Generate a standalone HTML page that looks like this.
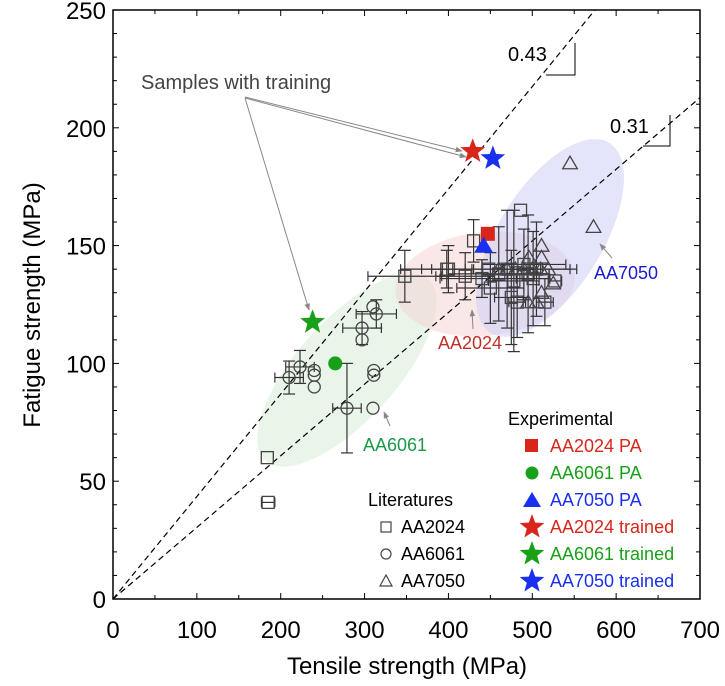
<!DOCTYPE html>
<html><head><meta charset="utf-8"><style>
html,body{margin:0;padding:0;background:#fff;}
svg{display:block;font-family:"Liberation Sans",Arial,sans-serif;}
</style></head><body>
<svg id="chart" width="725" height="686" viewBox="0 0 725 686" xmlns="http://www.w3.org/2000/svg">
<defs>
<marker id="ah" viewBox="0 0 10 10" refX="9" refY="5" markerWidth="7" markerHeight="7" orient="auto"><path d="M0,1 L10,5 L0,9 Z" fill="#888"/></marker>
</defs>
<g id="regions"></g>
<g id="lines"></g>
<g id="marks"></g>
<g id="axes"></g>
<g id="annot"></g>
</svg>
<script>
// ---- data ----
const xTicks = [0,100,200,300,400,500,600,700];
const yTicks = [0,50,100,150,200,250];
const ratioSlopes = [0.435, 0.304];
const ratioLabels = ["0.43", "0.31"];
// literature AA2024 squares: x, y, xerr, yerr
const sqX  = [184,185,348,398,430,400,420,440,450,460,470,478,482,486,495,501,515,527,505,490,475,448];
const sqY  = [60, 41, 137,140,152,140,137,136,132,138,140,135,126,165,138,136,126,135,140,142,128,140];
const sqEX = [0,  8,  44, 30, 0,  20, 35, 50, 40, 60, 40, 30, 10, 0,  25, 20, 10, 8,  40, 50, 20, 105];
const sqEY = [0,  0,  11, 8,  9,  10, 10, 8,  15, 20, 25, 30, 15, 0,  25, 20, 10, 0,  20, 15, 20, 0];
// literature AA6061 circles
const ciX  = [210,223,240,240,240,279,311,311,310,297,297,310,314];
const ciY  = [94, 98.5,97,95, 90, 81, 97, 95, 81, 115,110,124,121];
const ciEX = [17, 17, 0,  0,  0,  17, 0,  0,  0,  23, 0,  0,  24];
const ciEY = [7,  7,  0,  0,  0,  19, 0,  0,  0,  7,  0,  0,  6];
// literature AA7050 triangles
const trX = [545,573,511,496,511,519,525,511,495,460,470,480,490,500,510,505];
const trY = [185,158,150,145,145,140,134,130,126,140,140,140,140,140,140,126];
// experimental
const paX = [447,265,442];
const paY = [155,100,150];
const trainedX = [429,238,453];
const trainedY = [190,117.5,187];
const expColors = ["#d8261a","#18a018","#1a30f0"];
const expNames = ["AA2024","AA6061","AA7050"];

// ---- scales ----
const X0=113, X1=700, Y0=599, Y1=10;
const sx = v => X0 + v*(X1-X0)/700;
const sy = v => Y0 - v*(Y0-Y1)/250;
const NS="http://www.w3.org/2000/svg";
function mk(tag, attrs, parent){const e=document.createElementNS(NS,tag);for(const k in attrs)e.setAttribute(k,attrs[k]);parent.appendChild(e);return e;}
const gR=document.getElementById('regions'),gL=document.getElementById('lines'),gM=document.getElementById('marks'),gA=document.getElementById('axes'),gN=document.getElementById('annot');

// regions
[[347,370,122,50,-48,"rgba(205,232,205,0.45)","aa6061-region"],
 [485,284,90,52,-6,"rgba(245,210,210,0.5)","aa2024-region"],
 [550,238,112,52,-58,"rgba(205,205,248,0.55)","aa7050-region"]].forEach(r=>{
  const e=mk('ellipse',{cx:r[0],cy:r[1],rx:r[2],ry:r[3],transform:`rotate(${r[4]} ${r[0]} ${r[1]})`,fill:r[5]},gR);
  
  
});

// ratio lines
ratioSlopes.forEach((s,i)=>{
  let xe=700, ye=s*700; if(ye>250){ye=250;xe=250/s;}
  const l=mk('line',{x1:sx(0),y1:sy(0),x2:sx(xe),y2:sy(ye),stroke:'#000','stroke-width':1.2,'stroke-dasharray':'6,4'},gL);
  
  
});

function errbars(x,y,ex,ey,g){
  const c='#333',w=1.2;
  if(ex>0){mk('line',{x1:sx(x-ex),y1:sy(y),x2:sx(x+ex),y2:sy(y),stroke:c,'stroke-width':w},g);
    mk('line',{x1:sx(x-ex),y1:sy(y)-5,x2:sx(x-ex),y2:sy(y)+5,stroke:c,'stroke-width':w},g);
    mk('line',{x1:sx(x+ex),y1:sy(y)-5,x2:sx(x+ex),y2:sy(y)+5,stroke:c,'stroke-width':w},g);}
  if(ey>0){mk('line',{x1:sx(x),y1:sy(y-ey),x2:sx(x),y2:sy(y+ey),stroke:c,'stroke-width':w},g);
    mk('line',{x1:sx(x)-6,y1:sy(y-ey),x2:sx(x)+6,y2:sy(y-ey),stroke:c,'stroke-width':w},g);
    mk('line',{x1:sx(x)-6,y1:sy(y+ey),x2:sx(x)+6,y2:sy(y+ey),stroke:c,'stroke-width':w},g);}
}
sqX.forEach((x,i)=>{
  const g=mk('g',{},gM);
  
  
  errbars(x,sqY[i],sqEX[i],sqEY[i],g);
  mk('rect',{x:sx(x)-6,y:sy(sqY[i])-6,width:12,height:12,fill:'none',stroke:'#444','stroke-width':1.3},g);
});
ciX.forEach((x,i)=>{
  const g=mk('g',{},gM);
  
  
  errbars(x,ciY[i],ciEX[i],ciEY[i],g);
  mk('circle',{cx:sx(x),cy:sy(ciY[i]),r:6,fill:'none',stroke:'#444','stroke-width':1.3},g);
});
function triPts(cx,cy,s){return `${cx},${cy-s} ${cx-s*1.05},${cy+s*0.8} ${cx+s*1.05},${cy+s*0.8}`;}
trX.forEach((x,i)=>{
  const p=mk('polygon',{points:triPts(sx(x),sy(trY[i]),7),fill:'none',stroke:'#444','stroke-width':1.3},gM);
  
  
});
function starPts(cx,cy,R){const r=R*0.42;let p=[];for(let k=0;k<10;k++){const a=-Math.PI/2+k*Math.PI/5;const rr=k%2?r:R;p.push((cx+rr*Math.cos(a)).toFixed(1)+','+(cy+rr*Math.sin(a)).toFixed(1));}return p.join(' ');}
function paMark(i,cx,cy,g){
  if(i===0) return mk('rect',{x:cx-7,y:cy-7,width:14,height:14,fill:expColors[0]},g);
  if(i===1) return mk('circle',{cx:cx,cy:cy,r:7,fill:expColors[1]},g);
  return mk('polygon',{points:triPts(cx,cy,9),fill:expColors[2]},g);
}
paX.forEach((x,i)=>{
  const e=paMark(i,sx(x),sy(paY[i]),gM);
  
  
});
trainedX.forEach((x,i)=>{
  const e=mk('polygon',{points:starPts(sx(x),sy(trainedY[i]),13),fill:expColors[i]},gM);
  
  
});

// axes frame & ticks
mk('rect',{x:X0,y:Y1,width:X1-X0,height:Y0-Y1,fill:'none',stroke:'#000','stroke-width':1.5},gA);
for(let v=0;v<=700;v+=50){
  const t=v%100===0?6:4;
  mk('line',{x1:sx(v),y1:Y0,x2:sx(v),y2:Y0-t,stroke:'#000','stroke-width':1},gA);
  mk('line',{x1:sx(v),y1:Y1,x2:sx(v),y2:Y1+t,stroke:'#000','stroke-width':1},gA);
}
for(let v=0;v<=250;v+=10){
  const t=v%50===0?6:4;
  mk('line',{x1:X0,y1:sy(v),x2:X0+t,y2:sy(v),stroke:'#000','stroke-width':1},gA);
  mk('line',{x1:X1,y1:sy(v),x2:X1-t,y2:sy(v),stroke:'#000','stroke-width':1},gA);
}
xTicks.forEach(v=>{
  const t=mk('text',{x:sx(v),y:638,'text-anchor':'middle','font-size':24},gA);t.textContent=v;
  
  
});
yTicks.forEach(v=>{
  const t=mk('text',{x:X0-7,y:sy(v)+9,'text-anchor':'end','font-size':24},gA);t.textContent=v;
  
  
});
</script>
<script>
// annotations (static)
(function(){
const NS="http://www.w3.org/2000/svg";
const g=document.getElementById('annot');
function mk(tag,a,txt){const e=document.createElementNS(NS,tag);for(const k in a)e.setAttribute(k,a[k]);if(txt)e.textContent=txt;g.appendChild(e);return e;}
let e;
e=mk('text',{x:407,y:674,'text-anchor':'middle','font-size':24},'Tensile strength (MPa)');

e=mk('text',{x:0,y:0,'text-anchor':'middle','font-size':24,transform:'translate(40,305) rotate(-90)'},'Fatigue strength (MPa)');

e=mk('text',{x:141,y:89,'font-size':20,fill:'#444'},'Samples with training');

mk('line',{x1:245,y1:97,x2:462,y2:151,stroke:'#888','stroke-width':1,'marker-end':'url(#ah)'});
mk('line',{x1:245,y1:98,x2:466,y2:157,stroke:'#888','stroke-width':1,'marker-end':'url(#ah)'});
mk('line',{x1:245,y1:98,x2:309,y2:310,stroke:'#888','stroke-width':1,'marker-end':'url(#ah)'});
e=mk('text',{x:508,y:61,'font-size':20},'0.43');
mk('polyline',{points:'546,75 575,75 575,43',fill:'none',stroke:'#000','stroke-width':1});
e=mk('text',{x:610,y:133,'font-size':20},'0.31');
mk('polyline',{points:'643,146 670,146 670,115',fill:'none',stroke:'#000','stroke-width':1});
e=mk('text',{x:594,y:279,'font-size':18,fill:'#1a1ad0'},'AA7050');
mk('line',{x1:612,y1:258,x2:600,y2:244,stroke:'#888','stroke-width':1,'marker-end':'url(#ah)'});
e=mk('text',{x:438,y:349,'font-size':18,fill:'#c0302a'},'AA2024');
mk('line',{x1:473,y1:329,x2:472,y2:310,stroke:'#888','stroke-width':1,'marker-end':'url(#ah)'});
e=mk('text',{x:363,y:451,'font-size':18,fill:'#1a9a4a'},'AA6061');
mk('line',{x1:390,y1:426,x2:384,y2:412,stroke:'#888','stroke-width':1,'marker-end':'url(#ah)'});
// legends
e=mk('text',{x:368,y:506,'font-size':18},'Literatures');
const litN=['AA2024','AA6061','AA7050'];const rows=[527,554,581];
mk('rect',{x:381,y:rows[0]-5,width:10,height:10,fill:'none',stroke:'#444','stroke-width':1.2});
mk('circle',{cx:386,cy:rows[1],r:5,fill:'none',stroke:'#444','stroke-width':1.2});
mk('polygon',{points:`386,${rows[2]-6} 380,${rows[2]+5} 392,${rows[2]+5}`,fill:'none',stroke:'#444','stroke-width':1.2});
litN.forEach((n,i)=>{e=mk('text',{x:401,y:rows[i]+6,'font-size':18},n);});
e=mk('text',{x:508,y:425,'font-size':18},'Experimental');
const cols=['#d8261a','#18a018','#1a30f0'];const erows=[446,473,500,527,554,581];
mk('rect',{x:525,y:erows[0]-7,width:13,height:13,fill:cols[0]});
mk('circle',{cx:532,cy:erows[1],r:6.5,fill:cols[1]});
mk('polygon',{points:`532,${erows[2]-8} 523,${erows[2]+7} 541,${erows[2]+7}`,fill:cols[2]});
function star(cx,cy,R){const r=R*0.42;let p=[];for(let k=0;k<10;k++){const a=-Math.PI/2+k*Math.PI/5;const rr=k%2?r:R;p.push((cx+rr*Math.cos(a)).toFixed(1)+','+(cy+rr*Math.sin(a)).toFixed(1));}return p.join(' ');}
for(let i=0;i<3;i++) mk('polygon',{points:star(532,erows[3+i],13),fill:cols[i]});
const en=['AA2024 PA','AA6061 PA','AA7050 PA','AA2024 trained','AA6061 trained','AA7050 trained'];
en.forEach((n,i)=>{e=mk('text',{x:550,y:erows[i]+6,'font-size':18,fill:cols[i%3]},n);});
})();
</script>
</body></html>
